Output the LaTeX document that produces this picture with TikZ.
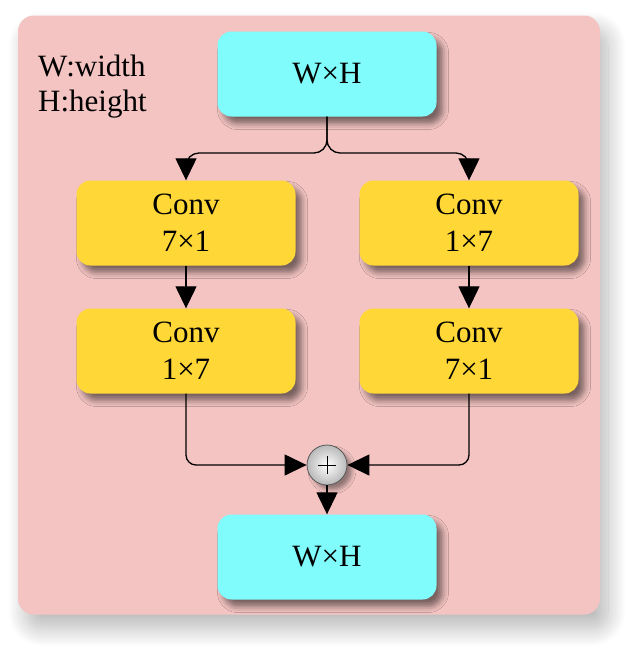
\documentclass[tikz,border=0pt]{standalone}
\usepackage{fontspec}
\setmainfont{Liberation Serif}
\usetikzlibrary{arrows.meta,positioning,calc,shadows.blur}
\definecolor{panel}{RGB}{243,196,194}
\definecolor{cyanbox}{RGB}{128,252,252}
\definecolor{convbox}{RGB}{255,215,55}

\begin{document}
\begin{tikzpicture}[x=1pt,y=-1pt]
\tikzstyle{B}=[rounded corners=14pt,minimum width=219pt,minimum height=85pt,
align=center,font=\fontsize{31}{37}\selectfont,
blur shadow={shadow xshift=6pt,shadow yshift=-7pt,shadow blur radius=6pt,shadow opacity=50}]
\tikzstyle{arr}=[-{Triangle[length=22pt,width=21pt]},line width=1.3pt]
\useasboundingbox (0,0) rectangle (633,657);
% background panel
\node[fill=panel,rounded corners=16pt,minimum width=582pt,minimum height=599pt,
blur shadow={shadow xshift=8pt,shadow yshift=-14pt,shadow blur radius=18pt,shadow opacity=28,shadow blur steps=20}]
(panel) at (309,315) {};
\node[align=left,anchor=north west,inner sep=0pt,font=\fontsize{31}{35}\selectfont]
(legend) at (38,55) {W:width\\H:height};
% boxes
\node[B,fill=cyanbox] (in) at (327,74) {W×H};
\node[B,fill=convbox] (la) at (186,223) {Conv\\7×1};
\node[B,fill=convbox] (ra) at (469,223) {Conv\\1×7};
\node[B,fill=convbox] (lb) at (186,351) {Conv\\1×7};
\node[B,fill=convbox] (rb) at (469,351) {Conv\\7×1};
\node[circle,minimum size=40pt,draw=gray!70!black,line width=0.8pt,
inner color=white,outer color=gray!55,
blur shadow={shadow xshift=5pt,shadow yshift=-5pt,shadow blur radius=4pt,shadow opacity=40}]
(sum) at (327,465) {};
\draw[line width=1pt] ($(sum.center)+(-9,0)$) -- ++(18,0) ($(sum.center)+(0,-9)$) -- ++(0,18);
\node[B,fill=cyanbox] (out) at (327,557) {W×H};
% connectors
\coordinate (split) at (327,153);
\draw[arr,rounded corners=13pt] (in.south) -- (split) -| (la.north);
\draw[arr,rounded corners=13pt] (in.south) -- (split) -| (ra.north);
\draw[arr] (la) -- (lb);
\draw[arr] (ra) -- (rb);
\draw[arr,rounded corners=10pt] (lb.south) |- (sum.west);
\draw[arr,rounded corners=10pt] (rb.south) |- (sum.east);
\draw[arr] (sum) -- (out);
\end{tikzpicture}
\end{document}
